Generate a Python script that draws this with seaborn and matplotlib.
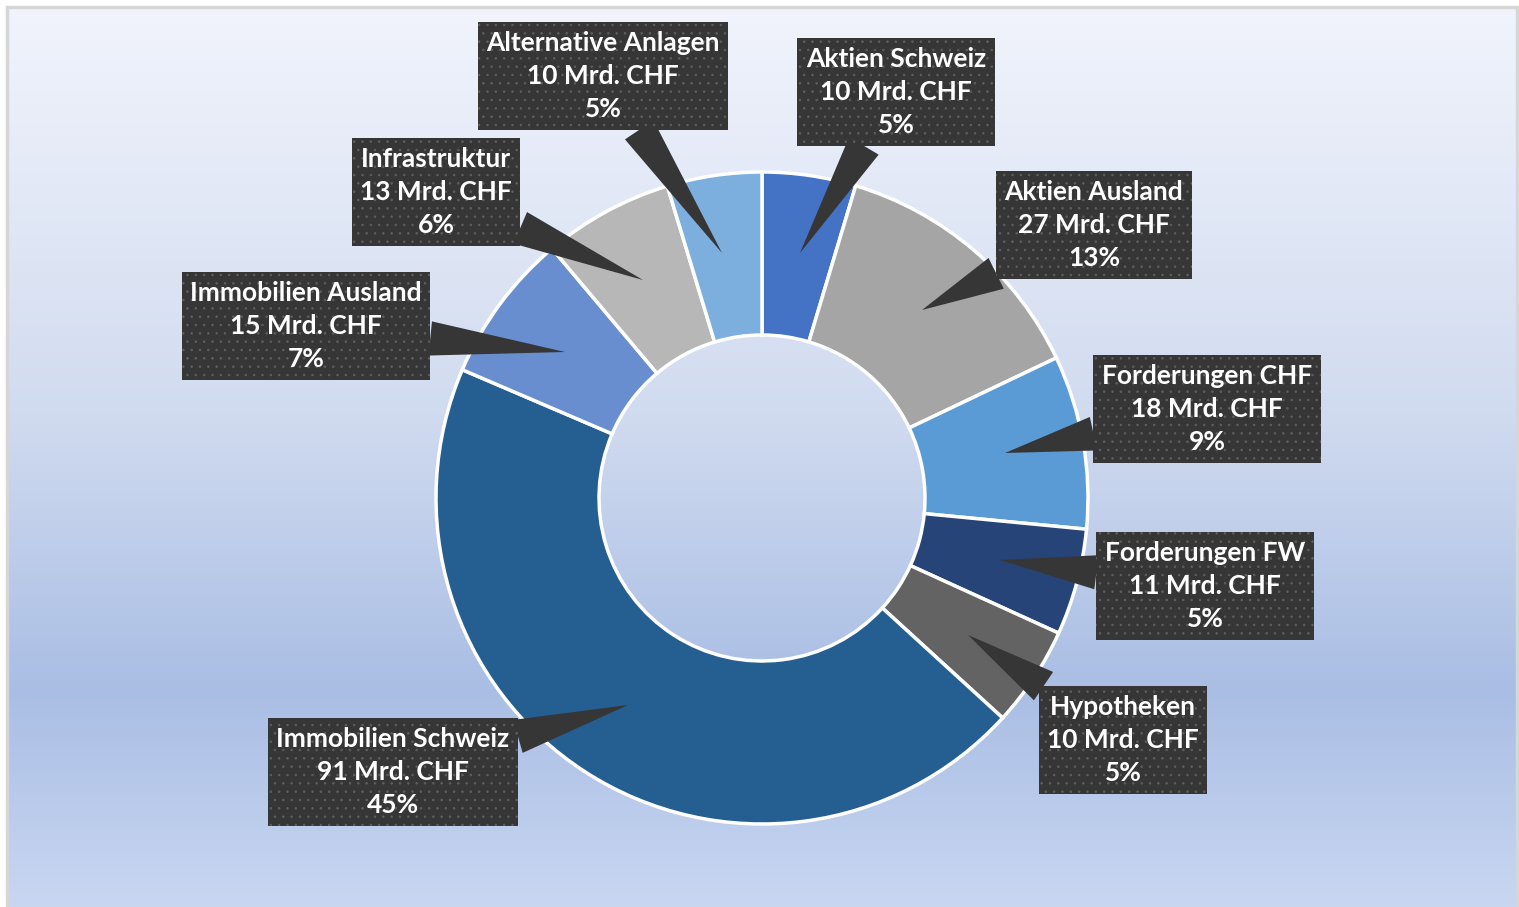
import numpy as np
import matplotlib
matplotlib.use("Agg")
import matplotlib.pyplot as plt
import seaborn as sns
from matplotlib.colors import LinearSegmentedColormap
from matplotlib.patches import Rectangle

# ---- data ----
categories = ["Aktien Schweiz", "Aktien Ausland", "Forderungen CHF", "Forderungen FW",
              "Hypotheken", "Immobilien Schweiz", "Immobilien Ausland", "Infrastruktur",
              "Alternative Anlagen"]
values_mrd = [9.5, 27.2, 17.6, 10.8, 10.2, 91.4, 15.2, 13.2, 9.6]
colors = ["#4472C4", "#A5A5A5", "#5B9BD5", "#264478", "#636363",
          "#255E91", "#698ED0", "#B7B7B7", "#7CAFDD"]

# label box centres and pointer tips (image pixel coords, y downward)
box_centres = [(896, 92), (1094, 225), (1207, 409), (1205, 586), (1123, 740),
               (393, 772), (306, 326), (436, 192), (603, 76)]
tips = [(800, 253), (922, 310), (1005, 453), (1000, 560), (968, 635),
        (628, 705), (565, 352), (643, 280), (722, 253)]

W, H = 1519, 907
sns.set_theme(style="white")
plt.rcParams["font.family"] = ["Lato", "DejaVu Sans"]
plt.rcParams["hatch.linewidth"] = 0.6

fig = plt.figure(figsize=(W / 100, H / 100), dpi=100)
fig.patch.set_facecolor("white")
ax = fig.add_axes([0, 0, 1, 1])
ax.set_xlim(0, W)
ax.set_ylim(0, H)
ax.set_aspect("equal")
ax.axis("off")

# background gradient
stops = [(0.0, (0.945, 0.957, 0.988)), (0.45, (0.82, 0.86, 0.94)),
         (0.76, (0.665, 0.745, 0.895)), (1.0, (0.785, 0.84, 0.945))]
cmap = LinearSegmentedColormap.from_list("bg", stops)
grad = np.linspace(0, 1, 512).reshape(-1, 1)
ax.imshow(grad, cmap=cmap, aspect="auto", extent=(8, 1517, 0, H - 6),
          origin="upper", zorder=0)
ax.add_patch(Rectangle((7, -5), 1510, H - 2, fill=False, ec="#D6D6D6", lw=2.5, zorder=0.5))

pal = sns.color_palette(colors)
cx, cy, r = 762, H - 498, 326
wedges, _ = ax.pie(values_mrd, colors=pal, startangle=90, counterclock=False,
                   center=(cx, cy), radius=r, frame=True,
                   wedgeprops=dict(width=r * 0.5, edgecolor="white", linewidth=2.5))
for w in wedges:
    w.set_zorder(1)
ax.set_xlim(0, W)
ax.set_ylim(0, H)
ax.axis("off")

total = sum(values_mrd)
for name, v, (bx, by), (tx, ty) in zip(categories, values_mrd, box_centres, tips):
    pct = 100 * v / total
    label = f"{name}\n{v:.0f} Mrd. CHF\n{pct:.0f}%"
    ax.annotate(label, xy=(tx, H - ty), xytext=(bx, H - by),
                ha="center", va="center", color="white", fontsize=19,
                fontweight="bold", linespacing=1.47, zorder=5,
                bbox=dict(boxstyle="square,pad=0.32", fc="#363636", ec="#5E5E5E",
                          lw=0, hatch=".."),
                arrowprops=dict(arrowstyle="wedge,tail_width=1.3,shrink_factor=0.5",
                                fc="#363636", ec="none", shrinkA=0, shrinkB=0))

fig.savefig("out.png", dpi=100)
